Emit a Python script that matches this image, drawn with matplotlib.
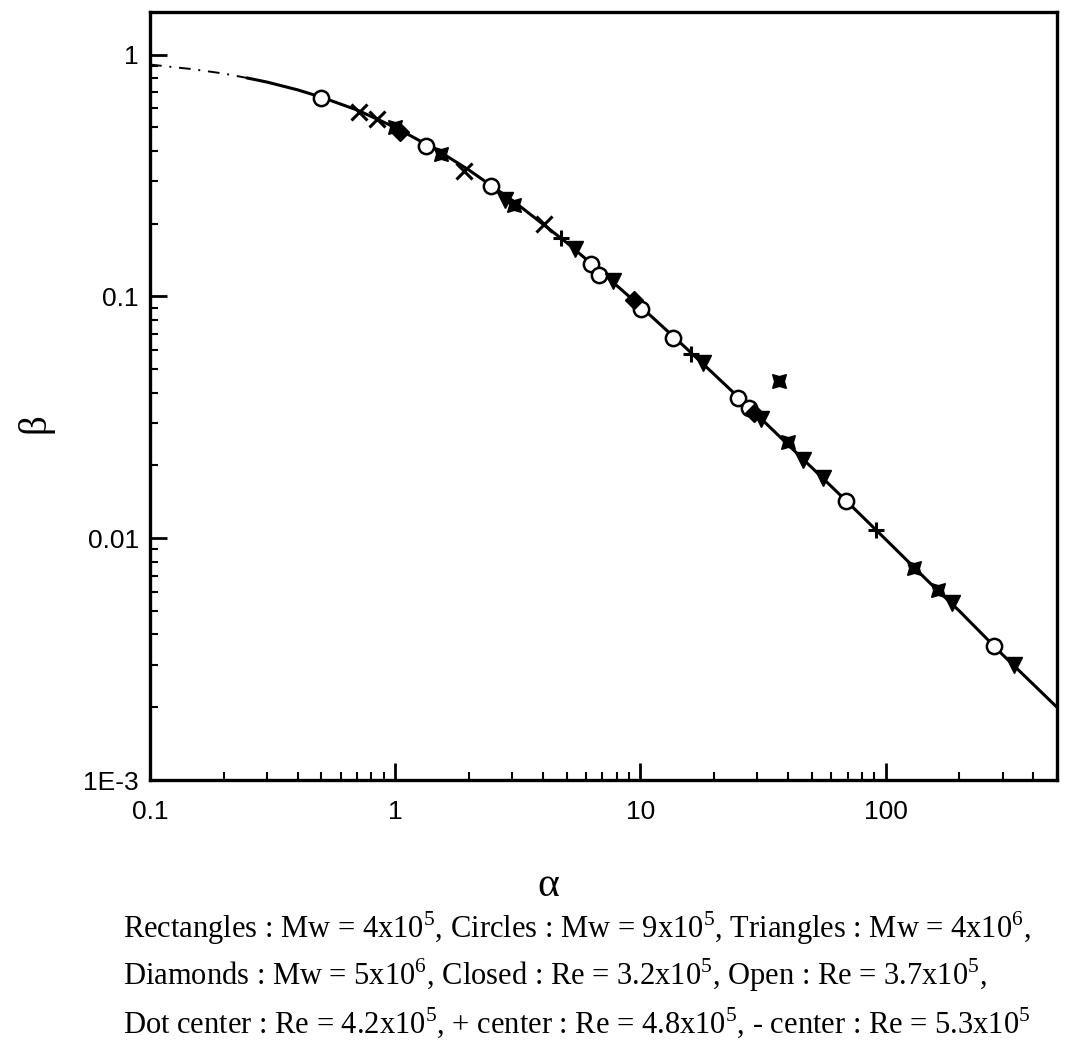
import numpy as np
import matplotlib.pyplot as plt
from matplotlib.ticker import LogLocator, NullFormatter, FixedLocator, FixedFormatter

plt.rcParams['font.family'] = ['Liberation Sans', 'DejaVu Sans']
plt.rcParams['mathtext.fontset'] = 'custom'
plt.rcParams['mathtext.rm'] = 'Liberation Serif'

# fitted curve
curve_alpha = [0.1, 0.15, 0.2, 0.25, 0.3, 0.4, 0.5, 0.7, 1, 1.5, 2, 3, 5, 7, 10,
               15, 20, 30, 50, 70, 100, 150, 200, 300, 500]
curve_beta = [0.91, 0.87, 0.835, 0.80, 0.77, 0.715, 0.667, 0.59, 0.50, 0.40, 0.333,
              0.25, 0.167, 0.125, 0.091, 0.0625, 0.0476, 0.0323, 0.0196, 0.0141,
              0.0099, 0.0066, 0.0050, 0.0033, 0.0020]

# measured points, grouped by symbol
circ_a = [0.5, 1.34, 2.46, 6.3, 6.75, 10.1, 13.6, 25, 27.6, 69, 278]
circ_b = [0.66, 0.42, 0.285, 0.136, 0.123, 0.089, 0.067, 0.038, 0.0345, 0.0143, 0.0036]

tri_a = [2.8, 5.4, 7.7, 18, 31, 46, 55.7, 186, 333]
tri_b = [0.25, 0.157, 0.116, 0.053, 0.031, 0.021, 0.0178, 0.0054, 0.0030]

cross_a = [0.71, 0.84, 1.9, 4.06]
cross_b = [0.58, 0.54, 0.33, 0.20]

plus_a = [4.76, 16.1, 91]
plus_b = [0.174, 0.058, 0.0108]

star_a = [1.0, 1.54, 3.06, 36.6, 40, 131, 163]
star_b = [0.50, 0.39, 0.24, 0.0446, 0.025, 0.0075, 0.0061]

diam_a = [1.05, 9.45, 29]
diam_b = [0.48, 0.097, 0.033]

fig = plt.figure(figsize=(10.8, 10.57), dpi=100)
ax = fig.add_axes([0.1389, 0.262, 0.8398, 0.7266])

ax.plot(curve_alpha[:4], curve_beta[:4], color='black', lw=1.4, ls=(0, (6, 4, 1, 4)))
ax.plot(curve_alpha[3:], curve_beta[3:], color='black', lw=2.2)

ax.plot(circ_a, circ_b, 'o', ms=11, mfc='white', mec='black', mew=1.8)
ax.plot(tri_a, tri_b, 'v', ms=11, mfc='black', mec='black')
ax.plot(cross_a, cross_b, 'x', ms=12, mec='black', mew=2.2)
ax.plot(plus_a, plus_b, '+', ms=12, mec='black', mew=2.2)
ax.plot(star_a, star_b, marker=(4, 1, 45), ls='none', ms=14, mfc='black', mec='black')
ax.plot(diam_a, diam_b, 'D', ms=9, mfc='black', mec='black')

ax.set_xscale('log')
ax.set_yscale('log')
ax.set_xlim(0.1, 500)
ax.set_ylim(1e-3, 1.5)

ax.xaxis.set_major_locator(FixedLocator([0.1, 1, 10, 100]))
ax.xaxis.set_major_formatter(FixedFormatter(['0.1', '1', '10', '100']))
ax.yaxis.set_major_locator(FixedLocator([1e-3, 0.01, 0.1, 1]))
ax.yaxis.set_major_formatter(FixedFormatter(['1E-3', '0.01', '0.1', '1']))
ax.xaxis.set_minor_locator(LogLocator(base=10, subs=np.arange(2, 10), numticks=20))
ax.yaxis.set_minor_locator(LogLocator(base=10, subs=np.arange(2, 10), numticks=20))
ax.xaxis.set_minor_formatter(NullFormatter())
ax.yaxis.set_minor_formatter(NullFormatter())

ax.tick_params(which='major', direction='in', length=12, width=2, labelsize=19)
ax.tick_params(axis='x', which='major', pad=14)
ax.tick_params(axis='y', which='major', pad=8)
ax.tick_params(which='minor', direction='in', length=6, width=1.5)
for s in ax.spines.values():
    s.set_linewidth(2.4)

fig.text(0.032, 0.600, 'β', fontsize=28, rotation=90, ha='center', va='center',
         family='Liberation Serif')
fig.text(0.508, 0.162, 'α', fontsize=30, ha='center', va='center',
         family='Liberation Serif')

cap = [
    r'Rectangles : Mw = 4x10$^5$, Circles : Mw = 9x10$^5$, Triangles : Mw = 4x10$^6$,',
    r'Diamonds : Mw = 5x10$^6$, Closed : Re = 3.2x10$^5$, Open : Re = 3.7x10$^5$,',
    r'Dot center : Re = 4.2x10$^5$, + center : Re = 4.8x10$^5$, - center : Re = 5.3x10$^5$',
]
for i, line in enumerate(cap):
    fig.text(0.114, 0.122 - i * 0.0445, line, fontsize=22,
             family='Liberation Serif', ha='left', va='center')

fig.savefig('out.png', dpi=100)
